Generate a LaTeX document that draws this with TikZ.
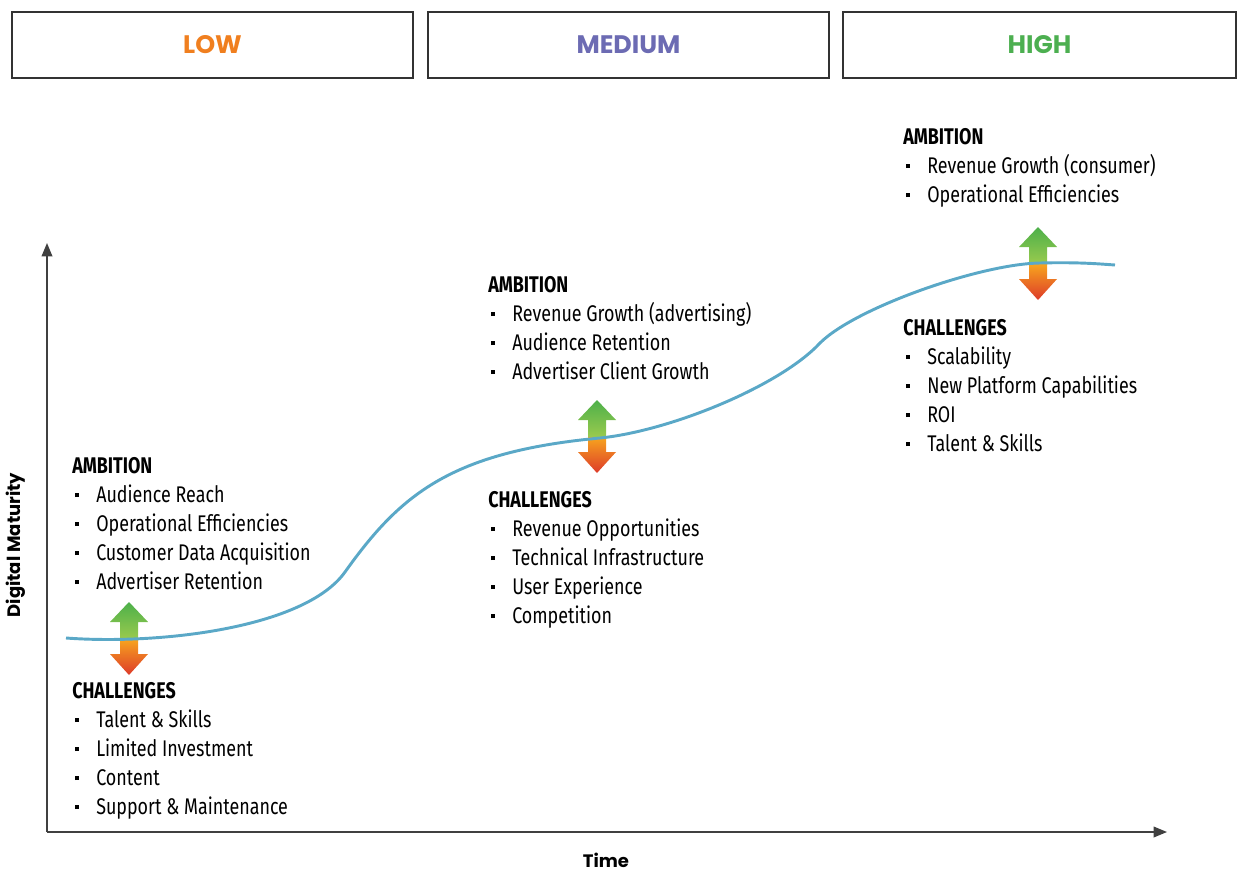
\documentclass[tikz,border=0pt]{standalone}
\usepackage{fontspec}
\setmainfont[FakeStretch=0.79]{Fira Sans}
\newfontfamily\headfont{Poppins}
\usetikzlibrary{arrows.meta}

\definecolor{lowcol}{HTML}{F07F1F}
\definecolor{medcol}{HTML}{6C6BB3}
\definecolor{highcol}{HTML}{4CAF50}
\definecolor{curvecol}{HTML}{5AA8C7}
\definecolor{upgreen}{HTML}{4DB04A}
\definecolor{uplight}{HTML}{9CCB4E}
\definecolor{downorange}{HTML}{F7A51E}
\definecolor{downred}{HTML}{DD3A2A}

% small square bullet in the lists
\newcommand{\itm}{\hspace{2.25pt}\rule[0.22em]{3pt}{3pt}\hspace{12.75pt}}

% up/down arrow, green half above and orange half below
\newcommand{\dualarrow}[1]{%
  \begin{scope}[shift={(#1)}]
    \shade[top color=upgreen,bottom color=uplight] (0,-37) -- (19,-17) -- (9,-17) -- (9,1) -- (-9,1) -- (-9,-17) -- (-19,-17) -- cycle;
    \shade[top color=downorange,bottom color=downred] (0,36) -- (19,15) -- (9,15) -- (9,0) -- (-9,0) -- (-9,15) -- (-19,15) -- cycle;
  \end{scope}}

\tikzset{
  levelbox/.style={draw=black!80,line width=1.1pt,minimum height=49.5pt,
    font=\headfont\bfseries\fontsize{19}{23}\selectfont},
  % anchored at the baseline of the last line
  listblock/.style={anchor=base west,align=left,inner sep=0pt,
    font=\fontsize{17}{21.75}\selectfont},
  axislabel/.style={font=\headfont\bfseries\fontsize{13.5}{16}\selectfont}
}

\begin{document}
\begin{tikzpicture}[x=0.75pt,y=-0.75pt]
  \useasboundingbox (0,0) rectangle (1238,871);

  % level boxes
  \node[levelbox,minimum width=300.75pt,text=lowcol] (low) at (212.5,45) {LOW};
  \node[levelbox,minimum width=300.75pt,text=medcol] (medium) at (628.5,45) {MEDIUM};
  \node[levelbox,minimum width=294.75pt,text=highcol] (high) at (1039.5,45) {HIGH};

  % axes
  \coordinate (origin) at (47,832);
  \coordinate (ytop) at (47,243);
  \coordinate (xend) at (1167,832);
  \draw[black!75,line width=1.1pt,-{Triangle[length=10pt,width=8pt]}] (origin) -- (ytop);
  \draw[black!75,line width=1.1pt,-{Triangle[length=10pt,width=8pt]}] (origin) -- (xend);
  \node[axislabel,rotate=90] (ylabel) at (16,545) {Digital Maturity};
  \node[axislabel] (xlabel) at (606,860) {Time};

  % arrows on the curve
  \dualarrow{129,639}
  \dualarrow{597,437}
  \dualarrow{1038,264}

  % maturity curve
  \draw[curvecol,line width=2.2pt]
    (66,638) .. controls (160,645) and (305,628) .. (345,572)
    .. controls (400,495) and (450,452) .. (600,438)
    .. controls (670,431) and (780,386) .. (820,343)
    .. controls (855,308) and (980,264) .. (1040,263)
    .. controls (1080,262) and (1100,264) .. (1115,265);

  % low
  \node[listblock] (amb-low) at (72,589) {\textbf{AMBITION}\\
    \itm Audience Reach\\ \itm Operational Efficiencies\\
    \itm Customer Data Acquisition\\ \itm Advertiser Retention};
  \node[listblock] (chal-low) at (72,814) {\textbf{CHALLENGES}\\
    \itm Talent \& Skills\\ \itm Limited Investment\\
    \itm Content\\ \itm Support \& Maintenance};

  % medium
  \node[listblock] (amb-med) at (488,379) {\textbf{AMBITION}\\
    \itm Revenue Growth (advertising)\\ \itm Audience Retention\\
    \itm Advertiser Client Growth};
  \node[listblock] (chal-med) at (488,623) {\textbf{CHALLENGES}\\
    \itm Revenue Opportunities\\ \itm Technical Infrastructure\\
    \itm User Experience\\ \itm Competition};

  % high
  \node[listblock] (amb-high) at (903,202) {\textbf{AMBITION}\\
    \itm Revenue Growth (consumer)\\ \itm Operational Efficiencies};
  \node[listblock] (chal-high) at (903,451) {\textbf{CHALLENGES}\\
    \itm Scalability\\ \itm New Platform Capabilities\\
    \itm ROI\\ \itm Talent \& Skills};
\end{tikzpicture}
\end{document}
